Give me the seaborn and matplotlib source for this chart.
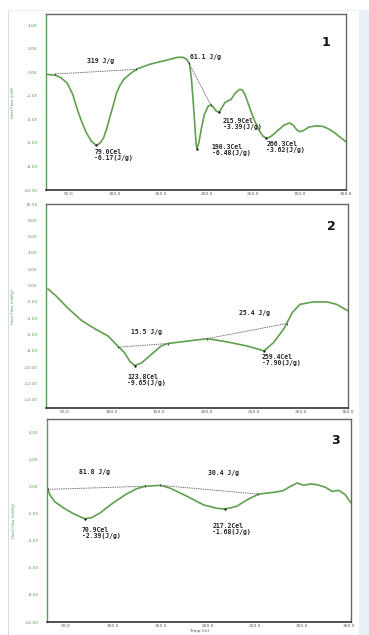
import numpy as np
import pandas as pd
import matplotlib
matplotlib.use("Agg")
import matplotlib.pyplot as plt
import seaborn as sns

# ---------------- data ----------------
# Panel 1
t1 = [26, 36, 42, 49, 55, 60, 65, 70, 75, 80, 84, 88, 92, 95, 99, 102, 106, 110, 115, 120,
      125, 130, 137, 145, 155, 162, 168, 174, 178, 181, 183, 185, 187, 188, 189, 191, 194, 197,
      201, 204, 207, 210, 213, 216, 219, 222, 226, 230, 235, 238, 241, 245, 250, 256, 260, 264,
      268, 272, 277, 283, 289, 293, 297, 300, 304, 310, 318, 325, 331, 337, 345, 350]
v1 = [-0.17, -0.25, -0.45, -0.93, -1.9, -3.2, -4.3, -5.2, -5.85, -6.2, -6.05, -5.6, -4.7, -3.8,
      -2.7, -1.8, -1.1, -0.6, -0.25, 0.05, 0.3, 0.45, 0.65, 0.82, 1.0, 1.15, 1.27, 1.27, 1.1, 0.7,
      -0.5, -2.5, -4.8, -6.0, -6.5, -6.0, -4.7, -3.6, -2.9, -2.75, -3.0, -3.3, -3.4, -3.0, -2.6,
      -2.45, -2.3, -1.8, -1.45, -1.5, -1.9, -2.8, -3.9, -4.9, -5.4, -5.6, -5.5, -5.25, -4.9, -4.5,
      -4.3, -4.5, -4.9, -5.05, -4.95, -4.65, -4.55, -4.6, -4.8, -5.1, -5.6, -5.9]
base1_t = [[36, 123], [180, 204]]
base1_v = [[-0.15, 0.25], [0.8, -2.75]]
peak1_t = [80, 189, 213, 264]
peak1_v = [-6.2, -6.5, -3.4, -5.6]
lab1_text = ["319 J/g", "61.1 J/g", "79.0Cel\n-6.17(J/g)", "190.3Cel\n-6.48(J/g)",
             "215.9Cel\n-3.39(J/g)", "266.3Cel\n-3.62(J/g)"]
lab1_t = [70, 182, 78, 205, 217, 264]
lab1_v = [1.0, 1.3, -6.5, -6.1, -3.9, -5.8]

# Panel 2
t2 = [32, 40, 54, 68, 82, 96, 106, 113, 119, 124, 131, 142, 152, 159, 180, 201, 222, 243,
      261, 271, 282, 291, 299, 313, 328, 338, 350]
v2 = [-0.4, -1.2, -2.85, -4.3, -5.3, -6.2, -7.4, -8.2, -9.3, -9.8, -9.5, -8.4, -7.4, -7.1,
      -6.8, -6.5, -6.9, -7.4, -8.0, -7.0, -5.3, -3.3, -2.3, -2.0, -2.0, -2.3, -3.1]
base2_t = [[106, 159], [201, 285]]
base2_v = [[-7.55, -7.1], [-6.5, -4.65]]
peak2_t = [124, 261]
peak2_v = [-9.8, -8.0]
lab2_text = ["15.5 J/g", "25.4 J/g", "123.8Cel\n-9.65(J/g)", "259.4Cel\n-7.90(J/g)"]
lab2_t = [120, 234, 116, 259]
lab2_v = [-5.7, -3.3, -10.8, -8.4]

# Panel 3
t3 = [30.6, 33, 38, 47, 58, 70, 77, 86, 100, 114, 125, 134, 150, 160, 178, 196, 210, 219,
      231, 242, 254, 270, 280, 288, 295, 302, 309, 316, 325, 332, 339, 346, 352]
v3 = [-0.1, -0.6, -1.1, -1.55, -2.0, -2.37, -2.3, -1.95, -1.2, -0.55, -0.15, 0.03, 0.1, -0.1,
      -0.7, -1.35, -1.6, -1.65, -1.45, -0.97, -0.55, -0.42, -0.3, 0.03, 0.27, 0.1, 0.2, 0.15,
      -0.05, -0.35, -0.27, -0.6, -1.2]
base3_t = [[30.6, 134], [150, 254]]
base3_v = [[-0.2, 0.03], [0.1, -0.55]]
peak3_t = [70, 219]
peak3_v = [-2.37, -1.65]
lab3_text = ["81.8 J/g", "30.4 J/g", "70.9Cel\n-2.39(J/g)", "217.2Cel\n-1.68(J/g)"]
lab3_t = [64, 201, 67, 205]
lab3_v = [1.1, 1.0, -2.95, -2.7]

x_ticks = [50, 100, 150, 200, 250, 300, 350]
y_ticks_13 = [4, 2, 0, -2, -4, -6, -8, -10]
y_ticks_2 = [10, 8, 6, 4, 2, 0, -2, -4, -6, -8, -10, -12, -14]
ylabels = ["Heat Flow (mW)", "Heat Flow (mW/g)", "Heat Flow (mW/g)"]
panel_names = ["1", "2", "3"]

# ---------------- style ----------------
sns.set_style("white")
plt.rcParams["font.family"] = ["DejaVu Sans"]

GREEN = "#5fa04e"
SPINE_G = "#5a9a55"
DARK = "#4a4a4a"
GRAYBL = "#777777"

fig = plt.figure(figsize=(3.69, 6.35), dpi=100)
fig.patch.set_facecolor("white")
# frame decorations
fig.add_artist(plt.Rectangle((359 / 369, 0), 10 / 369, 1 - 10 / 635, transform=fig.transFigure,
                             facecolor="#ebf0f8", edgecolor="none", zorder=0))
fig.add_artist(plt.Line2D([8 / 369, 8 / 369], [0, 1 - 10 / 635], transform=fig.transFigure,
                          color="#d8dbe0", lw=0.8))
fig.add_artist(plt.Line2D([8 / 369, 359 / 369], [1 - 10 / 635, 1 - 10 / 635], transform=fig.transFigure,
                          color="#eceef2", lw=0.6))

rects = [
    [46 / 369, 1 - 190 / 635, 300 / 369, 176 / 635],
    [46 / 369, 1 - 408 / 635, 302 / 369, 204 / 635],
    [47 / 369, 1 - 622 / 635, 304 / 369, 203 / 635],
]
xlims = [(26, 350), (30, 350), (30, 352)]
ylims = [(-10, 4.95), (-15, 10), (-10, 5)]
panels = [
    (t1, v1, base1_t, base1_v, peak1_t, peak1_v, lab1_text, lab1_t, lab1_v, y_ticks_13),
    (t2, v2, base2_t, base2_v, peak2_t, peak2_v, lab2_text, lab2_t, lab2_v, y_ticks_2),
    (t3, v3, base3_t, base3_v, peak3_t, peak3_v, lab3_text, lab3_t, lab3_v, y_ticks_13),
]
label_pos = [(326, 43), (331, 227), (335, 440)]

for i, (rect, pdata) in enumerate(zip(rects, panels)):
    t, v, bt, bv, pt, pv, lt, ltt, lvv, yt = pdata
    ax = fig.add_axes(rect)
    ax.set_facecolor("white")
    df = pd.DataFrame({"Temp": t, "Heat": v})
    sns.lineplot(data=df, x="Temp", y="Heat", ax=ax, color=GREEN, lw=1.2, sort=False,
                 estimator=None, zorder=3)
    for bx, by in zip(bt, bv):
        sns.lineplot(x=bx, y=by, ax=ax, color=GRAYBL, lw=0.7, ls=(0, (1.5, 0.8)),
                     marker="|", markersize=2.0, markeredgewidth=0.6, markeredgecolor="#333333",
                     sort=False, estimator=None, zorder=4)
    sns.scatterplot(x=pt, y=pv, ax=ax, color="#222222", s=3, linewidth=0, zorder=5)
    for txt, tx, ty in zip(lt, ltt, lvv):
        va = "top" if "Cel" in txt else "center"
        ax.text(tx, ty, txt, fontsize=4.7, family="DejaVu Sans Mono", fontweight="bold",
                color="#222222", ha="left", va=va, linespacing=1.0, zorder=6)
    ax.set_xlim(*xlims[i])
    ax.set_ylim(*ylims[i])
    ax.set_xticks(x_ticks)
    ax.set_xticklabels([f"{x:.1f}" for x in x_ticks])
    ax.set_yticks(yt)
    ax.set_yticklabels([f"{y:.2f}" for y in yt])
    ax.tick_params(axis="x", direction="in", length=2, width=0.5, color=DARK,
                   labelsize=3.2, labelcolor="#555555", pad=1.5)
    ax.tick_params(axis="y", direction="out", length=2, width=0.5, color=SPINE_G,
                   labelsize=3.2, labelcolor=SPINE_G, pad=4)
    ax.set_xlabel("")
    ax.set_ylabel(ylabels[i], fontsize=2.8, color=SPINE_G, labelpad=6)
    for s in ["top", "right"]:
        ax.spines[s].set_color("#666666")
        ax.spines[s].set_linewidth(1.0)
    ax.spines["bottom"].set_color("#333333")
    ax.spines["bottom"].set_linewidth(1.2)
    ax.spines["left"].set_color(SPINE_G)
    ax.spines["left"].set_linewidth(1.0)
    px, py = label_pos[i]
    fig.text(px / 369, 1 - py / 635, panel_names[i], fontsize=9, fontweight="bold",
             ha="center", va="center", color="#111111")
    if i == 2:
        ax.set_xlabel("Temp Cel", fontsize=3.2, color="#555555", labelpad=0.5)

fig.savefig("out.png", dpi=100, facecolor="white")
